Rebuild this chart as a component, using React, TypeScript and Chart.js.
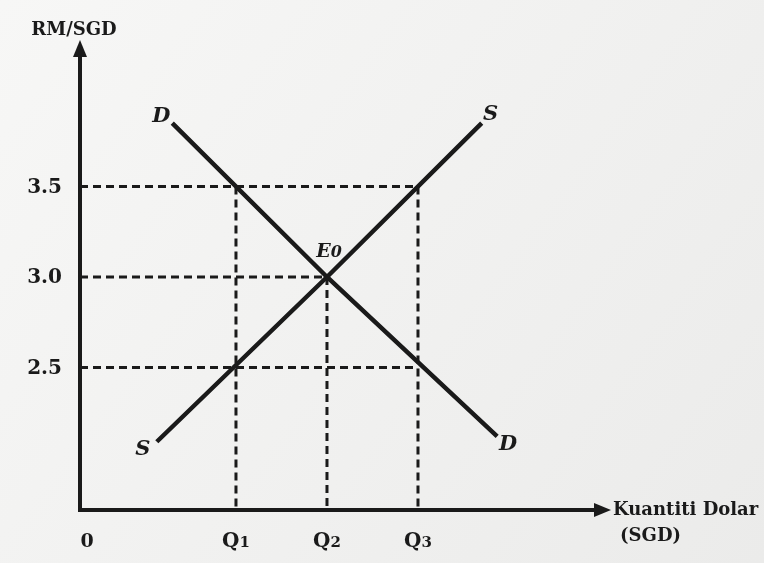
import React, { useEffect, useRef } from "react";
import { Chart, registerables } from "chart.js";

Chart.register(...registerables);

// ---- data ----
const qLabels = ["Q1", "Q2", "Q3"];
const qValues = [1, 2, 3];
const priceTicks = [2.5, 3.0, 3.5];
const demandPoints = [
  { x: 0.3, y: 3.85 },
  { x: 2, y: 3.0 },
  { x: 3.87, y: 2.12 },
];
const supplyPoints = [
  { x: 0.13, y: 2.09 },
  { x: 2, y: 3.0 },
  { x: 3.7, y: 3.85 },
];
const equilibrium = { x: 2, y: 3.0, label: "E0" };
const xAxisTitle = ["Kuantiti Dolar", "(SGD)"];
const yAxisTitle = "RM/SGD";

const X_MIN = -0.714;
const X_MAX = 5.077;
const Y_MIN = 1.713;
const Y_MAX = 4.298;

const INK = "#1a1a1a";
const FONT = "'DejaVu Serif', serif";

function drawSub(ctx: CanvasRenderingContext2D, main: string, sub: string, cx: number, baseline: number, style: string, big: number, small: number) {
  ctx.font = `${style} ${big}px ${FONT}`;
  const w1 = ctx.measureText(main).width;
  ctx.font = `${style} ${small}px ${FONT}`;
  const w2 = ctx.measureText(sub).width;
  const start = cx - (w1 + w2) / 2;
  ctx.textAlign = "left";
  ctx.textBaseline = "alphabetic";
  ctx.font = `${style} ${big}px ${FONT}`;
  ctx.fillText(main, start, baseline);
  ctx.font = `${style} ${small}px ${FONT}`;
  ctx.fillText(sub, start + w1, baseline);
}

const diagramPlugin = {
  id: "diagram",
  beforeDraw(chart: any) {
    const ctx = chart.ctx as CanvasRenderingContext2D;
    ctx.save();
    const g = ctx.createLinearGradient(0, 0, chart.width, chart.height);
    g.addColorStop(0, "#f7f7f6");
    g.addColorStop(1, "#ebebea");
    ctx.fillStyle = g;
    ctx.fillRect(0, 0, chart.width, chart.height);
    ctx.restore();
  },
  afterDatasetsDraw(chart: any) {
    const ctx = chart.ctx as CanvasRenderingContext2D;
    const xs = chart.scales.x;
    const ys = chart.scales.y;
    const ox = xs.getPixelForValue(X_MIN);
    const oy = ys.getPixelForValue(Y_MIN);
    const top = ys.getPixelForValue(Y_MAX);
    const right = xs.getPixelForValue(X_MAX);
    ctx.save();
    ctx.strokeStyle = INK;
    ctx.fillStyle = INK;
    ctx.lineWidth = 4;
    ctx.lineCap = "butt";
    ctx.lineJoin = "miter";
    // axes
    ctx.beginPath();
    ctx.moveTo(ox, top + 12);
    ctx.lineTo(ox, oy);
    ctx.lineTo(right - 10, oy);
    ctx.stroke();
    // arrow heads
    ctx.beginPath();
    ctx.moveTo(ox, top - 2);
    ctx.lineTo(ox - 7, top + 15);
    ctx.lineTo(ox + 7, top + 15);
    ctx.closePath();
    ctx.fill();
    ctx.beginPath();
    ctx.moveTo(right + 4, oy);
    ctx.lineTo(right - 13, oy - 7);
    ctx.lineTo(right - 13, oy + 7);
    ctx.closePath();
    ctx.fill();

    // y ticks
    ctx.font = `bold 20px ${FONT}`;
    ctx.textAlign = "right";
    ctx.textBaseline = "middle";
    priceTicks.forEach((v) => {
      ctx.fillText(v.toFixed(1), 62, ys.getPixelForValue(v) + 1);
    });
    // x ticks
    ctx.textAlign = "center";
    ctx.textBaseline = "alphabetic";
    ctx.font = `bold 19px ${FONT}`;
    ctx.fillText("0", ox + 7, oy + 37);
    qValues.forEach((v, i) => {
      const lbl = qLabels[i];
      drawSub(ctx, lbl.slice(0, 1), lbl.slice(1), xs.getPixelForValue(v), oy + 37, "bold", 20, 15);
    });
    // axis titles
    ctx.font = `bold 18px ${FONT}`;
    ctx.textAlign = "left";
    ctx.textBaseline = "middle";
    ctx.fillText(xAxisTitle[0], right + 6, oy);
    ctx.fillText(xAxisTitle[1], right + 13, oy + 26);
    ctx.textAlign = "center";
    ctx.fillText(yAxisTitle, ox - 6, top - 12);

    // curve labels
    ctx.font = `bold italic 21px ${FONT}`;
    ctx.textAlign = "center";
    ctx.textBaseline = "middle";
    const px = (p: { x: number; y: number }) => [xs.getPixelForValue(p.x), ys.getPixelForValue(p.y)];
    const [d0x, d0y] = px(demandPoints[0]);
    ctx.fillText("D", d0x - 11, d0y - 7);
    const [d1x, d1y] = px(demandPoints[demandPoints.length - 1]);
    ctx.fillText("D", d1x + 11, d1y + 8);
    const [s0x, s0y] = px(supplyPoints[0]);
    ctx.fillText("S", s0x - 14, s0y + 8);
    const [s1x, s1y] = px(supplyPoints[supplyPoints.length - 1]);
    ctx.fillText("S", s1x + 9, s1y - 9);
    const [ex, ey] = px(equilibrium);
    drawSub(ctx, equilibrium.label.slice(0, 1), equilibrium.label.slice(1), ex + 2, ey - 20, "bold italic", 19, 16);
    ctx.restore();
  },
};

export default function App() {
  const ref = useRef<HTMLCanvasElement | null>(null);
  useEffect(() => {
    if (!ref.current) return;
    const dashed = (pts: { x: number; y: number }[]) => ({
      data: pts,
      borderColor: INK,
      borderWidth: 3,
      borderDash: [8, 5],
      pointRadius: 0,
      showLine: true,
      fill: false,
      tension: 0,
    });
    const guides = [
      dashed([{ x: X_MIN, y: priceTicks[2] }, { x: qValues[2], y: priceTicks[2] }]),
      dashed([{ x: X_MIN, y: priceTicks[1] }, { x: qValues[1], y: priceTicks[1] }]),
      dashed([{ x: X_MIN, y: priceTicks[0] }, { x: qValues[2], y: priceTicks[0] }]),
      dashed([{ x: qValues[0], y: priceTicks[2] }, { x: qValues[0], y: Y_MIN }]),
      dashed([{ x: qValues[1], y: priceTicks[1] }, { x: qValues[1], y: Y_MIN }]),
      dashed([{ x: qValues[2], y: priceTicks[2] }, { x: qValues[2], y: Y_MIN }]),
    ];
    const chart = new Chart(ref.current, {
      type: "scatter",
      data: {
        datasets: [
          ...guides,
          {
            label: "D",
            data: demandPoints,
            borderColor: INK,
            borderWidth: 4.5,
            pointRadius: 0,
            showLine: true,
            tension: 0,
          },
          {
            label: "S",
            data: supplyPoints,
            borderColor: INK,
            borderWidth: 4.5,
            pointRadius: 0,
            showLine: true,
            tension: 0,
          },
        ] as any,
      },
      options: {
        animation: false,
        responsive: false,
        layout: { padding: { left: 80, top: 42, right: 157, bottom: 53 } },
        scales: {
          x: { type: "linear", min: X_MIN, max: X_MAX, display: false },
          y: { type: "linear", min: Y_MIN, max: Y_MAX, display: false },
        },
        plugins: { legend: { display: false }, tooltip: { enabled: false } },
      },
      plugins: [diagramPlugin],
    });
    return () => chart.destroy();
  }, []);
  return (
    <div style={{ position: "fixed", left: 0, top: 0, width: 764, height: 563 }}>
      <canvas ref={ref} width={764} height={563} />
    </div>
  );
}
